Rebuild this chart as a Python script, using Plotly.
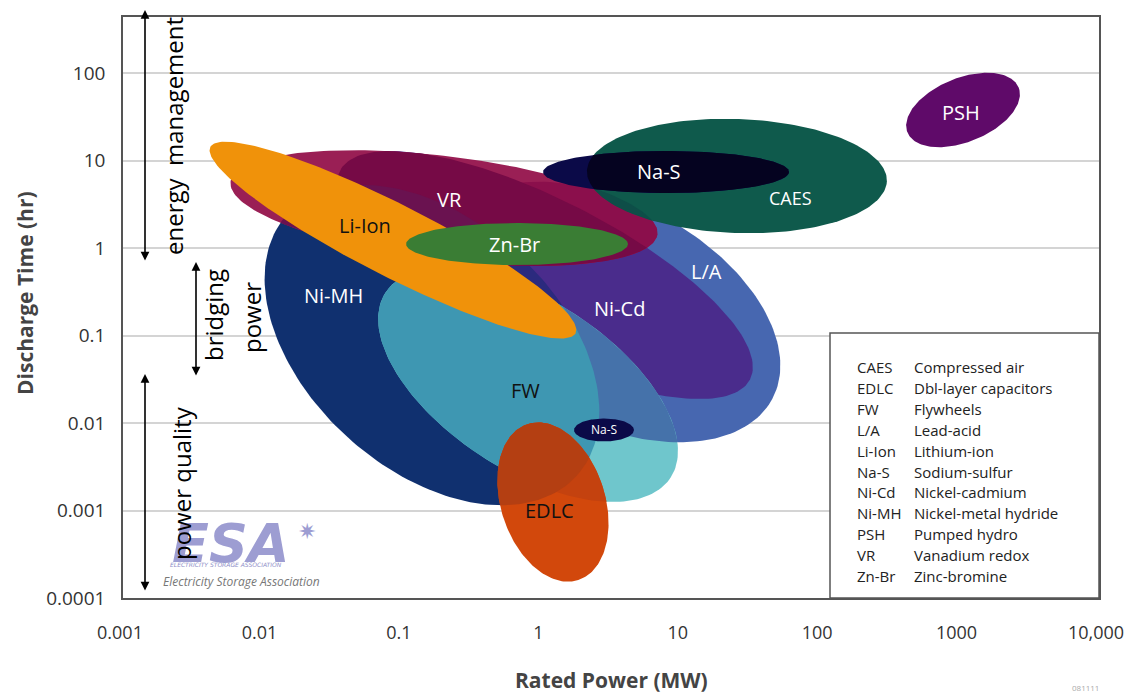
import numpy as np
import plotly.graph_objects as go

# ---------------- chart data ----------------
x_tick_values = [0.001, 0.01, 0.1, 1, 10, 100, 1000, 10000]
x_tick_labels = ["0.001", "0.01", "0.1", "1", "10", "100", "1000", "10,000"]
y_tick_values = [0.0001, 0.001, 0.01, 0.1, 1, 10, 100]
y_tick_labels = ["0.0001", "0.001", "0.01", "0.1", "1", "10", "100"]

# operating regions of each storage technology (ellipses in log-log space)
region_names = ["L/A", "Ni-MH", "Ni-Cd", "FW", "VR", "Li-Ion", "Zn-Br",
                "CAES", "Na-S", "PSH", "EDLC", "Na-S (PQ)"]
region_center_power_mw = [3.06, 0.1644, 1.064, 0.804, 0.2004, 0.0863, 0.670,
                          25.3, 7.84, 1059, 1.213, 2.818]
region_center_time_hr = [0.1857, 0.0778, 0.491, 0.02717, 2.86, 1.23, 1.11,
                         6.65, 7.39, 37.8, 0.00125, 0.00832]
region_half_major_decades = [1.327, 1.399, 1.650, 1.219, 1.542, 1.470, 0.796,
                             1.076, 0.882, 0.430, 0.588, 0.215]
region_half_minor_decades = [0.789, 0.897, 0.538, 0.610, 0.373, 0.258, 0.151,
                             0.409, 0.151, 0.2295, 0.373, 0.0825]
region_tilt_deg = [-28, -42, -27, -33, -7, -27, 0, -2, 0, 22, -72, 0]

# in-chart labels
label_texts = ["PSH", "CAES", "Na-S", "VR", "Li-Ion", "Zn-Br", "L/A",
               "Ni-MH", "Ni-Cd", "FW", "Na-S", "EDLC"]
label_power_mw = [1024, 60.8, 6.98, 0.218, 0.0545, 0.647, 15.4,
                  0.0321, 3.61, 0.776, 2.818, 1.154]
label_time_hr = [35.8, 3.73, 7.39, 3.54, 1.83, 1.11, 0.532,
                 0.283, 0.201, 0.0238, 0.00832, 0.00101]

legend_codes = ["CAES", "EDLC", "FW", "L/A", "Li-Ion", "Na-S", "Ni-Cd",
                "Ni-MH", "PSH", "VR", "Zn-Br"]
legend_names = ["Compressed air", "Dbl-layer capacitors", "Flywheels",
                "Lead-acid", "Lithium-ion", "Sodium-sulfur", "Nickel-cadmium",
                "Nickel-metal hydride", "Pumped hydro", "Vanadium redox",
                "Zinc-bromine"]

# ---------------- styles / layout ----------------
PAGE_OFFSET = 8                      # default body margin of the html page
W, H = 1133 - PAGE_OFFSET, 693 - PAGE_OFFSET
BOX_L, BOX_R, BOX_T, BOX_B = 123, 1099, 17, 598   # plot box in screen pixels
ML = BOX_L - PAGE_OFFSET
MT = BOX_T - PAGE_OFFSET
MR = W - (BOX_R - PAGE_OFFSET)
MB = H - (BOX_B - PAGE_OFFSET)
X_RANGE = [-3, 4]
Y_RANGE = [-4, 2.64]
PLOT_W = BOX_R - BOX_L
PLOT_H = BOX_B - BOX_T
ASPECT = (PLOT_W / (X_RANGE[1] - X_RANGE[0])) / (PLOT_H / (Y_RANGE[1] - Y_RANGE[0]))

FONT = "Open Sans"
region_colors = {
    "L/A": "#4767B0", "Ni-MH": "#10306F", "Ni-Cd": "#4A2C8C", "FW": "#6FC6CC",
    "VR": "#9A1F55", "Li-Ion": "#F0920A", "Zn-Br": "#3A7D34", "CAES": "#0F5A4C",
    "Na-S": "#0B0A48", "PSH": "#5F0A69", "EDLC": "#D2480C", "Na-S (PQ)": "#0B0A48",
}
overlap_colors = {
    ("Ni-Cd", "Ni-MH"): "#2B2A7E",
    ("FW", "Ni-MH"): "#3E97B2",
    ("FW", "L/A"): "#4572AA",
    ("VR", "L/A"): "#8B0F4C",
    ("VR", "Ni-Cd"): "#760A46",
    ("VR", "Ni-MH"): "#6A1250",
    ("CAES", "VR"): "#0E4E48",
    ("Na-S", "CAES"): "#050320",
    ("EDLC", "FW"): "#C4420F",
    ("EDLC", "Ni-MH"): "#B43F12",
}
draw_sequence = [
    "L/A", "Ni-MH", "Ni-Cd", ("Ni-Cd", "Ni-MH"),
    "FW", ("FW", "L/A"), ("FW", "Ni-MH"),
    "VR", ("VR", "L/A"), ("VR", "Ni-Cd"), ("VR", "Ni-MH"),
    "Li-Ion", "Zn-Br", "CAES", ("CAES", "VR"),
    "Na-S", ("Na-S", "CAES"), "PSH",
    "EDLC", ("EDLC", "FW"), ("EDLC", "Ni-MH"), "Na-S (PQ)",
]
label_colors = ["white", "white", "white", "white", "#111", "white", "white",
                "white", "white", "#111", "white", "#111"]
label_sizes = [20, 18, 20, 20, 20, 20, 20, 20, 20, 20, 12, 20]


def ellipse_uv(name, n=200):
    i = region_names.index(name)
    t = np.linspace(0, 2 * np.pi, n, endpoint=False)
    a = region_half_major_decades[i]
    b = region_half_minor_decades[i]
    th = np.radians(region_tilt_deg[i])
    u0 = np.log10(region_center_power_mw[i])
    v0 = np.log10(region_center_time_hr[i]) / ASPECT
    u = u0 + a * np.cos(t) * np.cos(th) - b * np.sin(t) * np.sin(th)
    v = v0 + a * np.cos(t) * np.sin(th) + b * np.sin(t) * np.cos(th)
    return np.column_stack([u, v])


def clip_convex(subject, clip):
    out = list(subject)
    for k in range(len(clip)):
        A, B = clip[k - 1], clip[k]
        inp, out = out, []
        if not inp:
            break
        S = inp[-1]

        def inside(P):
            return (B[0] - A[0]) * (P[1] - A[1]) - (B[1] - A[1]) * (P[0] - A[0]) >= 0

        def cut(S, E):
            d1 = E - S
            d2 = B - A
            den = d1[0] * d2[1] - d1[1] * d2[0]
            tt = ((A[0] - S[0]) * d2[1] - (A[1] - S[1]) * d2[0]) / den
            return S + tt * d1

        for E in inp:
            if inside(E):
                if not inside(S):
                    out.append(cut(S, E))
                out.append(E)
            elif inside(S):
                out.append(cut(S, E))
            S = E
    return np.array(out)


fig = go.Figure()


def add_poly(pts, color):
    if len(pts) < 3:
        return
    pts = np.vstack([pts, pts[:1]])
    fig.add_trace(go.Scatter(
        x=10 ** pts[:, 0], y=10 ** (pts[:, 1] * ASPECT), mode="lines",
        fill="toself", fillcolor=color, line=dict(width=0, color=color),
        hoverinfo="skip", showlegend=False))


for item in draw_sequence:
    if isinstance(item, tuple):
        top, bottom = item
        add_poly(clip_convex(ellipse_uv(top), ellipse_uv(bottom)), overlap_colors[item])
    else:
        add_poly(ellipse_uv(item), region_colors[item])


def pxp(px):
    return (px - BOX_L) / PLOT_W


def pyp(py):
    return (BOX_B - py) / PLOT_H


def paper_text(txt, cx, cy, font, angle=0, xanchor="center"):
    return dict(x=pxp(cx), y=pyp(cy), xref="paper", yref="paper", text=txt,
                textangle=angle, showarrow=False, xanchor=xanchor, yanchor="middle",
                font=font)


annotations = []
# region labels
for txt, p, t, c, s in zip(label_texts, label_power_mw, label_time_hr,
                           label_colors, label_sizes):
    annotations.append(dict(
        x=np.log10(p), y=np.log10(t), xref="x", yref="y", text=txt,
        showarrow=False, xanchor="center", yanchor="middle",
        font=dict(family=FONT, size=s, color=c)))

# application ranges (arrows + rotated text)
arrow_specs = [(145, 10, 252), (196, 262, 115), (145, 374, 218)]
for ax_px, y_top, length in arrow_specs:
    annotations.append(dict(
        x=pxp(ax_px), y=pyp(y_top), xref="paper", yref="paper", text="",
        showarrow=True, ax=0, ay=length, axref="pixel", ayref="pixel",
        arrowhead=2, arrowside="end+start", arrowsize=1.1, arrowwidth=1.6,
        arrowcolor="black"))
side_texts = [("energy  management", 173, 136), ("bridging", 213, 315),
              ("power", 251, 318), ("power quality", 181, 483)]
side_font = dict(family=FONT, size=24, color="black")

# ESA logo (drawn before the side text, which overlaps it)
annotations.append(paper_text("ESA", 231, 543,
                              dict(family="DejaVu Sans", size=54, color="#9D9DD2",
                                   weight="bold", style="italic")))
annotations.append(paper_text("✷", 307, 531,
                              dict(family="DejaVu Sans", size=22, color="#9D9DD2")))
annotations.append(paper_text("ELECTRICITY STORAGE ASSOCIATION", 226, 564,
                              dict(family="DejaVu Sans", size=6, color="#8F8FC8",
                                   style="italic")))
annotations.append(paper_text("Electricity Storage Association", 241, 581,
                              dict(family=FONT, size=12, color="#777", style="italic")))

for txt, cx, cy in side_texts:
    annotations.append(paper_text(txt, cx, cy, side_font, angle=-90))

# axis titles
title_font = dict(family=FONT, size=21, color="#444", weight="bold")
annotations.append(paper_text("Discharge Time (hr)", 25, 293, title_font, angle=-90))
annotations.append(paper_text("Rated Power (MW)", 611, 680, title_font))

# legend box text
legend_font = dict(family=FONT, size=15, color="#222")
for k, (code, name) in enumerate(zip(legend_codes, legend_names)):
    yk = 367 + k * 20.9
    annotations.append(paper_text(code, 855, yk, legend_font, xanchor="left"))
    annotations.append(paper_text(name, 912, yk, legend_font, xanchor="left"))

annotations.append(paper_text("081111", 1085, 687,
                              dict(family=FONT, size=8, color="#aaa")))

shapes = [dict(type="rect", xref="paper", yref="paper",
               x0=pxp(830), x1=1.0, y0=0.0, y1=pyp(333),
               line=dict(color="#555", width=1.5), fillcolor="white", layer="above")]

fig.update_layout(
    width=W, height=H,
    margin=dict(l=ML, r=MR, t=MT, b=MB, autoexpand=False),
    paper_bgcolor="white", plot_bgcolor="white",
    showlegend=False,
    xaxis=dict(type="log", range=X_RANGE, tickvals=x_tick_values, ticktext=x_tick_labels,
               showgrid=False, zeroline=False, showline=True, linecolor="#555",
               linewidth=1.5, mirror=True, ticks="", ticklabelstandoff=18,
               ticklabelshift=-3, ticklabeloverflow="allow",
               tickfont=dict(family=FONT, size=18, color="#333")),
    yaxis=dict(type="log", range=Y_RANGE, tickvals=y_tick_values, ticktext=y_tick_labels,
               showgrid=True, gridcolor="#D4D4D4", gridwidth=2, zeroline=False,
               showline=True, linecolor="#555", linewidth=1.5, mirror=True, ticks="",
               ticklabelstandoff=12,
               tickfont=dict(family=FONT, size=19, color="#333")),
    annotations=annotations,
    shapes=shapes,
)

fig.write_html("out.html")
